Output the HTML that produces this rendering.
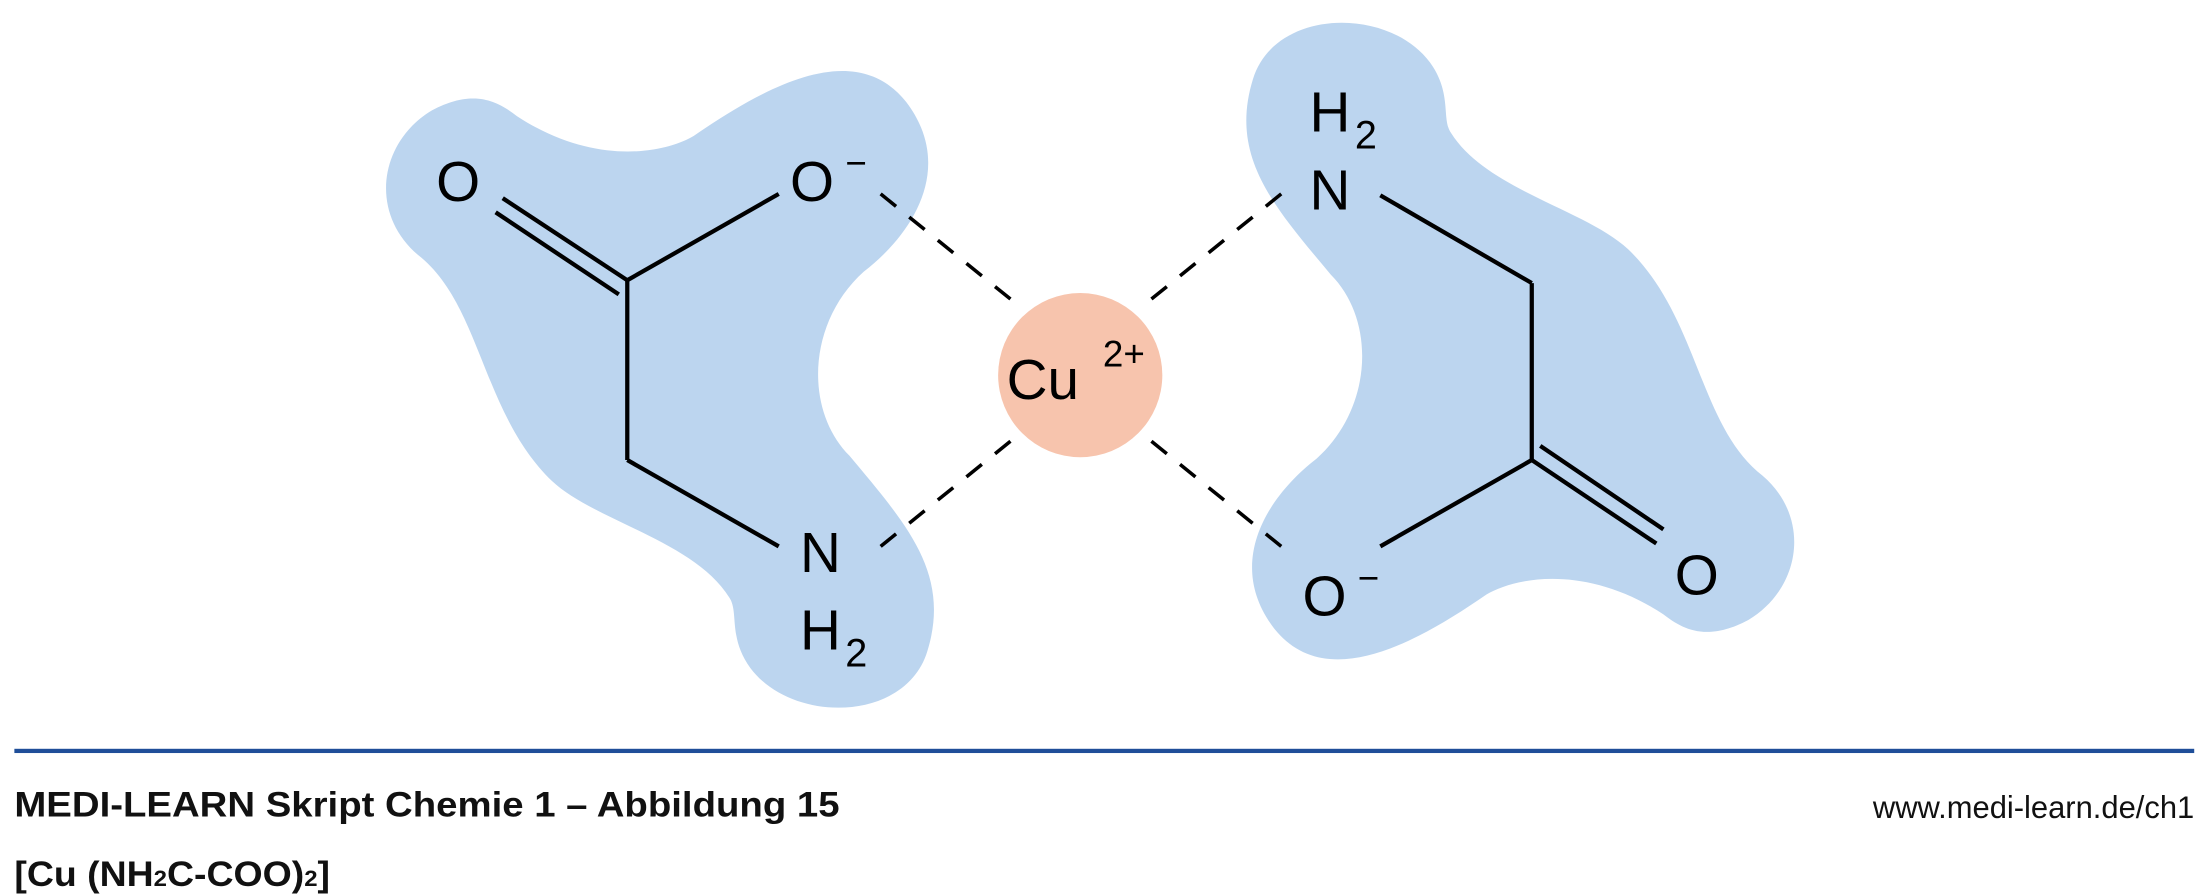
<!DOCTYPE html>
<html><head><meta charset="utf-8"><style>html,body{margin:0;padding:0;background:#fff}svg{display:block}</style></head>
<body>
<svg width="2210" height="896" viewBox="0 0 1561 633" xmlns="http://www.w3.org/2000/svg" font-family="Liberation Sans, sans-serif">
<rect width="1561" height="633" fill="#fff"/>
<g fill="#bcd5ef">
<path id="b" d="M295,180 C260,150 268,100 305,78 C335,62 352,72 365,82 C420,118 470,108 490,96 C545,58 605,28 640,72 C675,118 645,165 610,192 C570,228 568,290 600,322 C640,370 672,405 655,460 C640,510 560,512 530,472 C514,450 522,432 515,422 C490,382 420,368 390,340 C340,292 340,215 295,180 Z"/>
<use href="#b" transform="rotate(180 770 258)"/>
</g>
<circle cx="763" cy="265" r="58" fill="#f7c4ad"/>
<g stroke="#000" stroke-width="3" fill="none">
<line x1="443" y1="198" x2="443" y2="325"/>
<line x1="443" y1="198" x2="550" y2="137"/>
<line x1="443" y1="325" x2="550" y2="386"/>
<line x1="443" y1="198" x2="355" y2="140"/>
<line x1="437" y1="208" x2="350" y2="150"/>
<line x1="1082" y1="200" x2="1082" y2="325"/>
<line x1="1082" y1="200" x2="975" y2="138"/>
<line x1="1082" y1="325" x2="975" y2="386"/>
<line x1="1082" y1="325" x2="1170" y2="384"/>
<line x1="1088" y1="315" x2="1175" y2="374"/>
</g>
<g stroke="#000" stroke-width="2.5" stroke-dasharray="14,12">
<line x1="622" y1="137" x2="722" y2="218"/>
<line x1="622" y1="386" x2="722" y2="305"/>
<line x1="905" y1="137" x2="805" y2="218"/>
<line x1="905" y1="386" x2="805" y2="305"/>
</g>
<g font-size="40" fill="#000">
<text x="308" y="142">O</text>
<text x="558" y="142">O</text><text x="597" y="124" font-size="26">−</text>
<text x="565" y="404">N</text>
<text x="565" y="459">H</text><text x="597" y="471" font-size="28">2</text>
<text x="925" y="148">N</text>
<text x="925" y="93">H</text><text x="957" y="105" font-size="28">2</text>
<text x="1183" y="420">O</text>
<text x="920" y="435">O</text><text x="959" y="417" font-size="26">−</text>
<text x="711" y="282">Cu</text><text x="779" y="259" font-size="26">2+</text>
</g>
<rect x="10" y="529" width="1540" height="3" fill="#1f4e99"/>
<text x="10" y="577" font-size="25" font-weight="bold" fill="#111" textLength="583" lengthAdjust="spacingAndGlyphs">MEDI-LEARN Skript Chemie 1 – Abbildung 15</text>
<text x="1323" y="578" font-size="22" fill="#111" textLength="227" lengthAdjust="spacingAndGlyphs">www.medi-learn.de/ch1</text>
<text x="10" y="626" font-size="25" font-weight="bold" fill="#111" textLength="223" lengthAdjust="spacingAndGlyphs">[Cu (NH<tspan font-size="16">2</tspan>C-COO)<tspan font-size="16">2</tspan>]</text>
</svg>
</body></html>
